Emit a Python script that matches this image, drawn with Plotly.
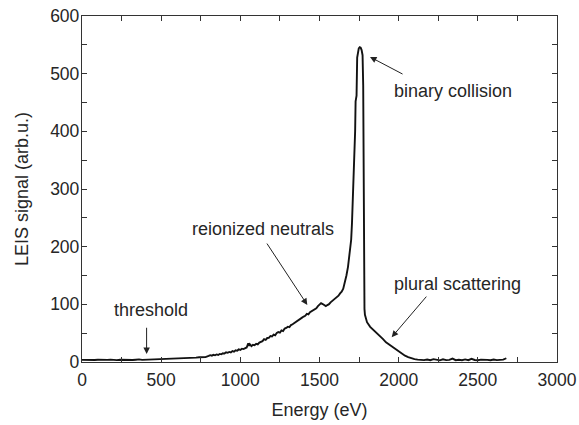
import plotly.graph_objects as go

# LEIS spectrum: energy (eV) and signal (arb. u.)
energy = [
    0, 20, 40, 60, 80, 100, 120, 140, 160, 180, 200, 220, 240, 260, 280, 300,
    320, 340, 360, 380, 400, 420, 440, 460, 480, 500, 520, 540, 560, 580, 600,
    620, 640, 660, 680, 700, 720, 740, 760, 780,
    800, 810, 820, 830, 840, 850, 860, 870, 880, 890, 900, 910, 920, 930, 940,
    950, 960, 970, 980, 990, 1000, 1010, 1020, 1030, 1040, 1050, 1055, 1060,
    1070, 1080, 1090, 1100, 1110, 1120, 1130, 1140, 1150, 1160, 1170, 1180,
    1190, 1200, 1210, 1220, 1230, 1240, 1250, 1260, 1270, 1280, 1290, 1300,
    1310, 1320, 1330, 1340, 1350, 1360, 1370, 1380, 1390, 1400, 1410, 1420,
    1430, 1440, 1450, 1460, 1470, 1480, 1490, 1500, 1510, 1520, 1530, 1540,
    1550, 1560, 1570, 1580, 1590, 1600, 1610, 1620, 1630, 1640, 1650, 1660,
    1670, 1680, 1690, 1700, 1705, 1710, 1715, 1720, 1725, 1728, 1734, 1738,
    1742, 1748, 1754, 1760, 1766, 1772, 1776, 1778, 1780, 1782, 1784, 1787,
    1792, 1800, 1820, 1840, 1860, 1880, 1900, 1920, 1940, 1960, 1980, 2000,
    2020, 2040, 2060, 2080, 2100, 2120, 2140, 2160, 2180, 2200, 2220, 2240,
    2260, 2280, 2300, 2320, 2340, 2360, 2380, 2400, 2420, 2440, 2460, 2480,
    2500, 2520, 2540, 2560, 2580, 2600, 2620, 2640, 2660, 2680, 2690,
]
signal = [
    3.6, 3.3, 3.8, 3.1, 3.5, 3.9, 3.4, 3.2, 3.7, 4.1, 3.5, 3.3, 3.9, 3.6, 3.2,
    3.8, 3.4, 4.0, 4.6, 3.7, 3.9, 4.1, 4.4, 3.9, 4.6, 4.3, 4.9, 4.6, 5.3, 5.0,
    5.6, 5.4, 6.1, 6.5, 6.2, 7.2, 7.6, 8.3, 8.9, 8.5,
    10.5, 11.8, 10.9, 12.4, 11.6, 13.1, 12.2, 14.0, 13.3, 15.2, 14.6, 16.8,
    15.9, 17.5, 16.7, 18.9, 18.0, 20.2, 19.4, 21.8, 21.0, 23.1, 22.4, 24.6,
    25.2, 32.5, 28.0, 30.8, 27.6, 29.9, 29.0, 31.5, 30.6, 33.8, 34.9, 36.2,
    39.5, 38.4, 41.6, 42.0, 45.1, 44.2, 47.6, 46.4, 50.3, 51.8, 50.9, 54.7,
    53.6, 57.9, 59.0, 61.2, 60.4, 64.1, 65.5, 67.2, 69.8, 70.4, 73.5, 74.6,
    77.0, 78.8, 80.1, 83.4, 82.6, 86.2, 88.0, 89.5, 92.7, 93.2, 96.8, 99.0,
    102.0, 100.5, 98.2, 97.0, 98.8, 100.2, 103.5, 105.8, 107.2, 110.0, 112.4,
    115.0, 119.0, 122.0, 127.0, 137.0, 150.0, 165.0, 185.0, 212.0, 240.0,
    275.0, 310.0, 350.0, 400.0, 452.0, 462.0, 528.0, 538.0, 544.0, 546.0,
    545.0, 541.0, 532.0, 480.0, 340.0, 200.0, 120.0, 92.0, 82.0, 76.0, 69.0,
    61.0, 56.0, 51.0, 46.0, 40.0, 34.0, 30.0, 27.0, 22.5, 19.0, 15.0, 11.0,
    8.5, 6.2, 5.0, 4.2, 3.6, 3.2, 4.4, 3.1, 5.0, 3.4, 2.9, 4.7, 3.3, 3.6,
    6.0, 3.1, 3.9, 3.0, 4.5, 3.2, 5.6, 3.5, 3.1, 4.2, 3.3, 3.7, 3.0, 4.4, 3.2,
    3.5, 4.1, 6.5,
]

# annotation labels and arrow geometry (data coordinates)
labels = ["binary collision", "reionized neutrals", "threshold", "plural scattering"]
label_x = [2345, 1145, 434, 2370]
label_y = [470, 231, 90, 136]
arrow_tip_x = [1819, 1423, 408, 1956]
arrow_tip_y = [529, 99, 14, 43]
arrow_tail_x = [2034, 1162, 408, 2183]
arrow_tail_y = [498, 208, 62, 116]

FONT = "Liberation Sans, Arial, Helvetica, sans-serif"
TXT = "#262626"

fig = go.Figure()
fig.add_trace(go.Scatter(
    x=energy, y=signal, mode="lines",
    line=dict(color="#121212", width=1.9),
    showlegend=False,
))

annotations = []
for t, lx, ly in zip(labels, label_x, label_y):
    annotations.append(dict(
        x=lx, y=ly, xref="x", yref="y", text=t, showarrow=False,
        font=dict(family=FONT, size=18, color=TXT),
    ))
for tx, ty, sx, sy in zip(arrow_tip_x, arrow_tip_y, arrow_tail_x, arrow_tail_y):
    annotations.append(dict(
        x=tx, y=ty, ax=sx, ay=sy, xref="x", yref="y", axref="x", ayref="y",
        text="", showarrow=True, arrowhead=2, arrowsize=1.3, arrowwidth=1,
        arrowcolor="#222222",
    ))

axis_common = dict(
    showline=True, linecolor="#333333", linewidth=1.3, mirror="allticks",
    ticks="inside", ticklen=5, tickwidth=1, tickcolor="#333333",
    showgrid=False, zeroline=False, automargin=False,
    tickfont=dict(family=FONT, size=17.5, color=TXT),
)

fig.update_layout(
    width=579, height=425,
    margin=dict(l=82, r=22, t=16, b=63),
    paper_bgcolor="white", plot_bgcolor="white",
    annotations=annotations,
    xaxis=dict(
        range=[0, 3000], dtick=500, tick0=0,
        minor=dict(dtick=250, ticks="inside", ticklen=5, tickcolor="#333333"),
        title=dict(text="Energy (eV)", font=dict(family=FONT, size=18, color=TXT), standoff=14),
        ticklabelstandoff=2,
        **axis_common,
    ),
    yaxis=dict(
        range=[0, 600], dtick=100, tick0=0,
        minor=dict(dtick=50, ticks="inside", ticklen=5, tickcolor="#333333"),
        title=dict(text="LEIS signal (arb.u.)", font=dict(family=FONT, size=18, color=TXT), standoff=16),
        ticklabelstandoff=-2,
        **axis_common,
    ),
)

fig.write_html("out.html")
